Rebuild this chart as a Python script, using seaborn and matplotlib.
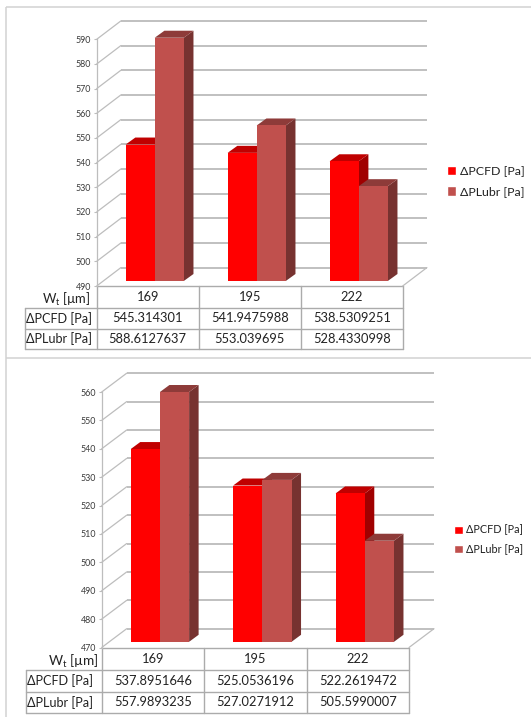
import matplotlib
matplotlib.use("Agg")
import matplotlib.pyplot as plt
from matplotlib.patches import Polygon
from matplotlib.transforms import Affine2D, IdentityTransform
import pandas as pd
import seaborn as sns

sns.set_theme(style="white")
plt.rcParams["font.family"] = ["Lato", "Noto Sans", "DejaVu Sans"]
plt.rcParams["mathtext.default"] = "regular"

W, H = 531, 717
SERIES = ["ΔPCFD [Pa]", "ΔPLubr [Pa]"]
WIDTHS = ["169", "195", "222"]

# Pressure drops for the first case
upper_cfd = [545.314301, 541.9475988, 538.5309251]
upper_lubr = [588.6127637, 553.039695, 528.4330998]
upper_ticks = [490, 500, 510, 520, 530, 540, 550, 560, 570, 580, 590]

# Pressure drops for the second case
lower_cfd = [537.8951646, 525.0536196, 522.2619472]
lower_lubr = [557.9893235, 527.0271912, 505.5990007]
lower_ticks = [470, 480, 490, 500, 510, 520, 530, 540, 550, 560]

FRONT = ["#FF0000", "#C0504D"]
TOP = ["#C00000", "#8E3B39"]
SIDE = ["#A00000", "#773230"]
GRID = "#BDBDBD"
RULE = "#ABABAB"
INK = "#222222"

fig = plt.figure(figsize=(W / 100, H / 100), dpi=100, facecolor="white")
canvas = fig.add_axes([0, 0, 1, 1], zorder=0)
canvas.set_xlim(0, W)
canvas.set_ylim(H, 0)
canvas.axis("off")

# Panel frame
for xs, ys in [((5.7, 5.7), (7.3, 717)), ((5.7, 531), (7.3, 7.3)), ((5.7, 531), (358, 358))]:
    canvas.plot(xs, ys, color="#D2D2D2", lw=1.1, solid_capstyle="butt")


def draw_panel(cfd, lubr, ticks, box, back, bar_shift, depth, rows_y, left_x, header_x,
               legend_xy, legend_size, header_size):
    x0, x1, y_low, y_high = box
    ax = fig.add_axes([x0 / W, 1 - y_low / H, (x1 - x0) / W, (y_low - y_high) / H],
                      zorder=1, facecolor="none")
    table = pd.DataFrame({
        "width": WIDTHS * 2,
        "series": [SERIES[0]] * 3 + [SERIES[1]] * 3,
        "dp": list(cfd) + list(lubr),
    })
    sns.barplot(data=table, x="width", y="dp", hue="series", order=WIDTHS, hue_order=SERIES,
                palette=FRONT, saturation=1, width=0.57, gap=0, ax=ax)
    ymin, ymax = ticks[0], ticks[-1]
    ax.set_xlim(-0.5, 2.5)
    ax.set_ylim(ymin, ymax)
    ax.set_xlabel("")
    ax.set_ylabel("")

    # Back wall and left wall gridlines
    back_tf = ax.transData + Affine2D().translate(back[0], back[1])
    ax.hlines(ticks, -0.5, 2.5, transform=back_tf, colors=GRID, lw=1.35, zorder=1, clip_on=False)
    to_px = ax.transData.transform
    for t in ticks:
        a = to_px((-0.5, t))
        ax.plot([a[0], a[0] + back[0]], [a[1], a[1] + back[1]], transform=IdentityTransform(),
                color=GRID, lw=0.9, zorder=1, clip_on=False)
    a = to_px((2.5, ymin))
    ax.plot([a[0], a[0] + back[0]], [a[1], a[1] + back[1]], transform=IdentityTransform(),
            color=GRID, lw=0.9, zorder=1, clip_on=False)

    # Extruded bars: front faces come from seaborn, side and top faces follow them
    shift = Affine2D().translate(bar_shift[0], bar_shift[1])
    for s, container in enumerate(ax.containers):
        for patch in container:
            value = patch.get_height()
            patch.set_y(ymin)
            patch.set_height(value - ymin)
            patch.set_transform(ax.transData + shift)
            patch.set_clip_on(False)
            patch.set_linewidth(0)
            patch.set_zorder(3.1 + s)
            (xa, ya), (xb, yb) = (ax.transData + shift).transform(
                [(patch.get_x(), ymin), (patch.get_x() + patch.get_width(), value)])
            dx, dy = depth
            side = [(xb, ya), (xb + dx, ya + dy), (xb + dx, yb + dy), (xb, yb)]
            top = [(xa, yb), (xb, yb), (xb + dx, yb + dy), (xa + dx, yb + dy)]
            for pts, col in [(side, SIDE[s]), (top, TOP[s])]:
                ax.add_patch(Polygon(pts, closed=True, transform=IdentityTransform(), facecolor=col,
                                     edgecolor="none", clip_on=False, zorder=3 + s))

    # Value axis
    sns.despine(ax=ax, top=True, right=True, bottom=True, left=False)
    ax.spines["left"].set_color(GRID)
    ax.spines["left"].set_linewidth(0.9)
    ax.set_xticks([])
    ax.set_yticks(ticks)
    ax.set_yticklabels([str(t) for t in ticks], fontsize=6.4, color="#3A3A3A")
    ax.tick_params(axis="y", length=2.5, width=0.8, color=GRID, pad=1.5, left=True)

    # Data table under the axis
    cols = [x0 + (x1 - x0) * i / 3 for i in range(4)]
    canvas.plot([x0, x1], [rows_y[0], rows_y[0]], color=RULE, lw=1)
    for y in rows_y[1:]:
        canvas.plot([left_x, x1], [y, y], color=RULE, lw=1)
    for x in cols:
        canvas.plot([x, x], [rows_y[0], rows_y[3]], color=RULE, lw=1)
    canvas.plot([left_x, left_x], [rows_y[1], rows_y[3]], color=RULE, lw=1)
    centers = [(rows_y[i] + rows_y[i + 1]) / 2 for i in range(3)]
    canvas.text(header_x, centers[0] + 2.5, "W$_t$ [µm]", ha="right", va="center",
                fontsize=header_size, color=INK)
    rows = [WIDTHS, [str(v) for v in cfd], [str(v) for v in lubr]]
    for r, labels in enumerate(rows):
        for c, label in enumerate(labels):
            canvas.text((cols[c] + cols[c + 1]) / 2, centers[r], label, ha="center",
                        va="center", fontsize=9.3, color=INK)
    for r, name in enumerate(SERIES):
        canvas.text(left_x + 1, centers[r + 1], name, ha="left", va="center", fontsize=9.1,
                    color=INK)

    # Legend beside the plot
    handles, labels = ax.get_legend_handles_labels()
    ax.legend(handles, labels, loc="center left", bbox_to_anchor=legend_xy,
              bbox_transform=canvas.transData, frameon=False, fontsize=legend_size,
              handlelength=0.8, handleheight=0.8, handletextpad=0.3, labelspacing=0.75,
              borderpad=0, borderaxespad=0, labelcolor=INK)


draw_panel(upper_cfd, upper_lubr, upper_ticks,
           box=(96.7, 402.7, 286, 39.3), back=(24.2, 18.4), bar_shift=(7, 5), depth=(9.7, 7),
           rows_y=(286, 307.7, 328.5, 349), left_x=25, header_x=91,
           legend_xy=(446.5, 181.5), legend_size=8.9, header_size=9.4)
draw_panel(lower_cfd, lower_lubr, lower_ticks,
           box=(101.7, 409, 647.5, 392), back=(25, 18.8), bar_shift=(7, 5.7), depth=(9.5, 7),
           rows_y=(648.3, 670, 691.7, 713.3), left_x=25.7, header_x=99,
           legend_xy=(454, 539.5), legend_size=7.8, header_size=9.8)

fig.savefig("out.png", dpi=100, facecolor="white")
